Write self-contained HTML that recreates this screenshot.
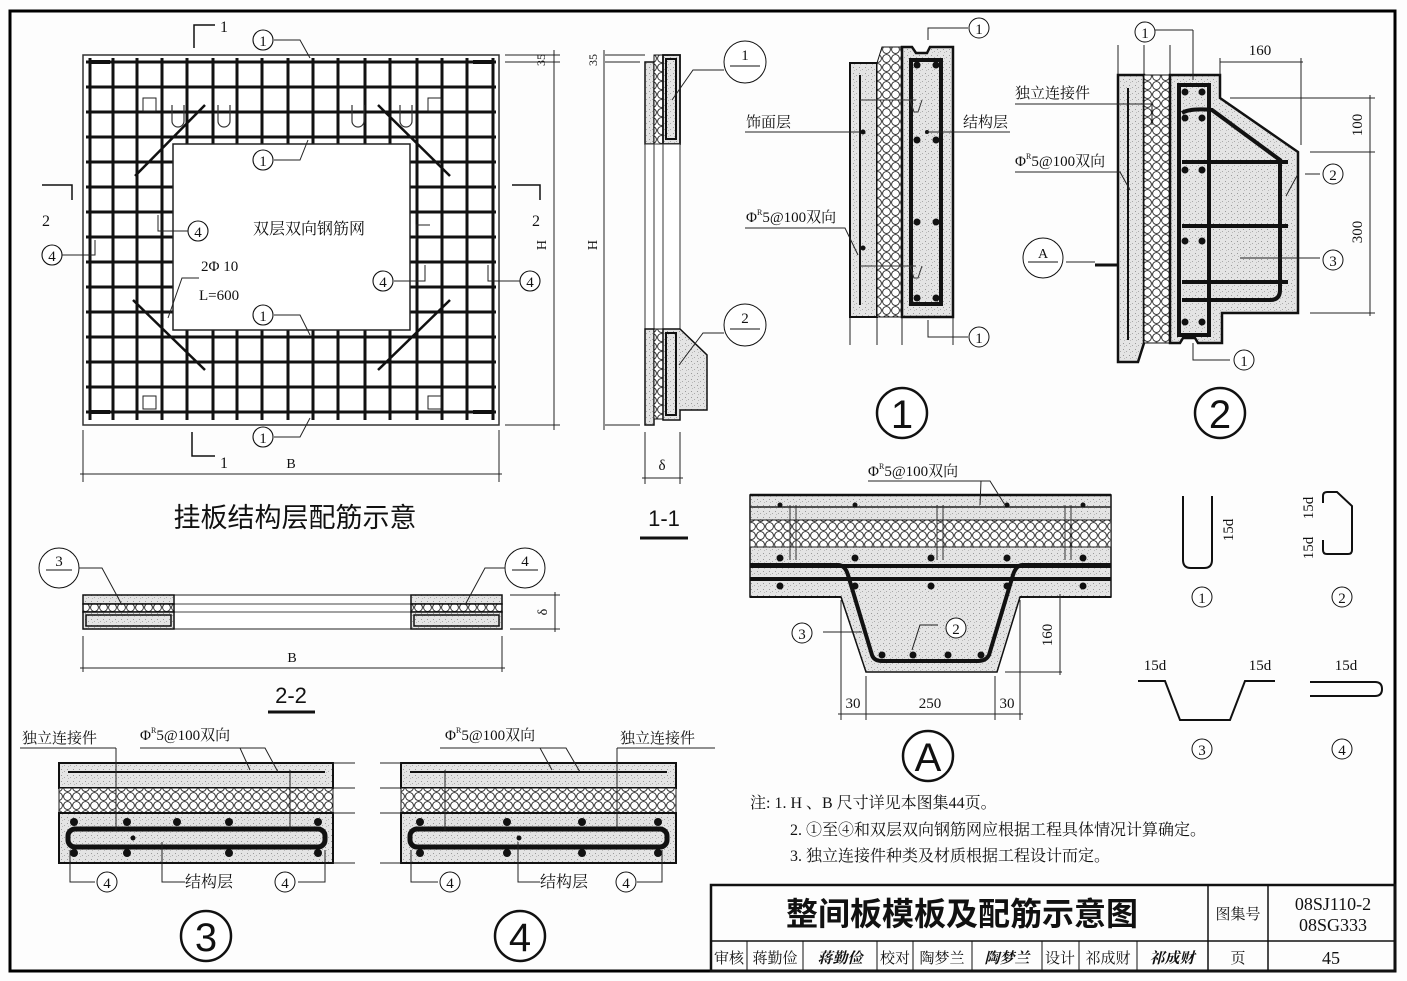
<!DOCTYPE html>
<html><head><meta charset="utf-8"><style>
html,body{margin:0;padding:0;background:#fdfdfd;}
svg{display:block}
text{font-family:"Liberation Serif","Noto Serif CJK SC","Noto Sans CJK SC",serif;fill:#111}
.s{font-family:"Liberation Sans","Noto Sans CJK SC",sans-serif}
</style></head><body>
<svg width="1407" height="981" viewBox="0 0 1407 981" xmlns="http://www.w3.org/2000/svg">
<defs>
<pattern id="hex" width="9" height="9" patternUnits="userSpaceOnUse">
<rect width="9" height="9" fill="#fff"/><circle cx="4.5" cy="4.5" r="3.9" fill="none" stroke="#222" stroke-width="0.9"/>
</pattern>
<pattern id="conc" width="6" height="6" patternUnits="userSpaceOnUse">
<rect width="6" height="6" fill="#e4e4e4"/><rect x="1" y="1" width="1" height="1" fill="#999"/><rect x="4" y="3" width="1" height="1" fill="#aaa"/><rect x="2" y="4" width="1" height="1" fill="#bbb"/>
</pattern>
</defs>
<rect x="0" y="0" width="1407" height="981" fill="#fdfdfd"/>
<rect x="10" y="11" width="1385" height="960" fill="none" stroke="#000" stroke-width="3"/>

<!-- ===== Main plan ===== -->
<rect x="83" y="55" width="416" height="370" fill="#fff" stroke="#333" stroke-width="1.5"/>
<g stroke="#111" stroke-width="3">
<line x1="86" y1="62" x2="496" y2="62"/><line x1="86" y1="87" x2="496" y2="87"/><line x1="86" y1="112" x2="496" y2="112"/><line x1="86" y1="137" x2="496" y2="137"/><line x1="86" y1="162" x2="496" y2="162"/><line x1="86" y1="187" x2="496" y2="187"/><line x1="86" y1="212" x2="496" y2="212"/><line x1="86" y1="237" x2="496" y2="237"/><line x1="86" y1="262" x2="496" y2="262"/><line x1="86" y1="287" x2="496" y2="287"/><line x1="86" y1="312" x2="496" y2="312"/><line x1="86" y1="337" x2="496" y2="337"/><line x1="86" y1="362" x2="496" y2="362"/><line x1="86" y1="387" x2="496" y2="387"/><line x1="86" y1="412" x2="496" y2="412"/>
<line x1="90" y1="58" x2="90" y2="420"/><line x1="113" y1="58" x2="113" y2="420"/><line x1="137" y1="58" x2="137" y2="420"/><line x1="162" y1="58" x2="162" y2="420"/><line x1="187" y1="58" x2="187" y2="420"/><line x1="213" y1="58" x2="213" y2="420"/><line x1="237" y1="58" x2="237" y2="420"/><line x1="262" y1="58" x2="262" y2="420"/><line x1="288" y1="58" x2="288" y2="420"/><line x1="313" y1="58" x2="313" y2="420"/><line x1="338" y1="58" x2="338" y2="420"/><line x1="365" y1="58" x2="365" y2="420"/><line x1="390" y1="58" x2="390" y2="420"/><line x1="417" y1="58" x2="417" y2="420"/><line x1="442" y1="58" x2="442" y2="420"/><line x1="467" y1="58" x2="467" y2="420"/><line x1="493" y1="58" x2="493" y2="420"/>
</g>
<g stroke="#111" stroke-width="4"><line x1="90" y1="62" x2="110" y2="62"/><line x1="90" y1="412" x2="110" y2="412"/><line x1="473" y1="62" x2="493" y2="62"/><line x1="473" y1="412" x2="493" y2="412"/></g>
<rect x="173" y="144" width="237" height="186" fill="#fff" stroke="#222" stroke-width="1.5"/>
<g stroke="#111" stroke-width="2.5">
<line x1="135" y1="176" x2="205" y2="105"/><line x1="378" y1="105" x2="450" y2="176"/><line x1="133" y1="300" x2="205" y2="370"/><line x1="378" y1="370" x2="450" y2="300"/>
</g>
<g fill="#fff" stroke="#222"><rect x="143" y="98" width="13" height="13"/><rect x="428" y="98" width="13" height="13"/><rect x="143" y="396" width="13" height="13"/><rect x="428" y="396" width="13" height="13"/></g>
<g fill="none" stroke="#333" stroke-width="1.2"><path d="M172 105 v16 a6 6 0 0 0 12 0 v-16"/><path d="M218 105 v16 a6 6 0 0 0 12 0 v-16"/><path d="M352 105 v16 a6 6 0 0 0 12 0 v-16"/><path d="M400 105 v16 a6 6 0 0 0 12 0 v-16"/></g>
<text x="253" y="234" font-size="16">双层双向钢筋网</text>
<rect x="200" y="252" width="56" height="52" fill="#fff"/>
<text x="201" y="271" font-size="15">2Φ 10</text><text x="199" y="300" font-size="15">L=600</text>
<g fill="#fff" stroke="#111" stroke-width="1.1">
<circle cx="263" cy="40" r="10"/><circle cx="263" cy="160" r="10"/><circle cx="263" cy="315" r="10"/><circle cx="263" cy="437" r="10"/><circle cx="198" cy="231" r="10"/><circle cx="383" cy="281" r="10"/><circle cx="52" cy="255" r="10"/><circle cx="530" cy="281" r="10"/>
</g>
<g font-size="15" text-anchor="middle"><text x="263" y="46">1</text><text x="263" y="166">1</text><text x="263" y="321">1</text><text x="263" y="443">1</text><text x="198" y="237">4</text><text x="383" y="287">4</text><text x="52" y="261">4</text><text x="530" y="287">4</text></g>
<g fill="none" stroke="#222" stroke-width="1"><path d="M274 40 H300 L310 58"/><path d="M274 160 H300 L308 140"/><path d="M274 315 H300 L310 335"/><path d="M274 437 H300 L310 418"/><path d="M188 231 H158 V215"/><path d="M394 281 H425 V265"/><path d="M62 255 H95 V240"/><path d="M520 281 H488 V265"/><path d="M199 278 L182 278 L168 318"/><path d="M430 225 H416 V240"/></g>
<g fill="none" stroke="#111" stroke-width="1.5"><path d="M194 48 V25 H215"/><path d="M192 432 V456 H215"/><path d="M42 185 H72 V200"/><path d="M512 185 H540 V200"/></g>
<text x="220" y="32" font-size="16">1</text><text x="220" y="468" font-size="16">1</text><text x="42" y="226" font-size="16">2</text><text x="532" y="226" font-size="16">2</text>
<g stroke="#222" stroke-width="1"><line x1="83" y1="430" x2="83" y2="482"/><line x1="499" y1="430" x2="499" y2="482"/><line x1="80" y1="474" x2="502" y2="474"/>
<line x1="505" y1="55" x2="560" y2="55"/><line x1="505" y1="62" x2="560" y2="62"/><line x1="505" y1="425" x2="560" y2="425"/><line x1="554" y1="50" x2="554" y2="430"/></g>
<text x="291" y="468" font-size="14" text-anchor="middle">B</text>
<text x="546" y="245" font-size="14" transform="rotate(-90 546 245)" text-anchor="middle">H</text>
<text x="545" y="60" font-size="12" transform="rotate(-90 545 60)" text-anchor="middle">35</text>
<text x="295" y="527" font-size="27" class="s" text-anchor="middle">挂板结构层配筋示意</text>

<!-- ===== 1-1 section ===== -->
<g stroke="#222" stroke-width="1"><line x1="605" y1="55" x2="645" y2="55"/><line x1="605" y1="62" x2="640" y2="62"/><line x1="605" y1="425" x2="640" y2="425"/><line x1="604" y1="50" x2="604" y2="430"/></g>
<text x="597" y="245" font-size="14" transform="rotate(-90 597 245)" text-anchor="middle">H</text>
<text x="597" y="60" font-size="12" transform="rotate(-90 597 60)" text-anchor="middle">35</text>
<rect x="645" y="62" width="9" height="82" fill="url(#conc)" stroke="#111" stroke-width="1.5"/>
<rect x="654" y="55" width="9" height="89" fill="url(#hex)" stroke="#111" stroke-width="1"/>
<rect x="663" y="55" width="17" height="89" fill="url(#conc)" stroke="#111" stroke-width="1.8"/>
<rect x="666" y="59" width="10" height="80" fill="none" stroke="#111" stroke-width="2"/>
<rect x="645" y="144" width="35" height="185" fill="#fff" stroke="#333" stroke-width="1"/>
<line x1="654" y1="144" x2="654" y2="329" stroke="#333"/><line x1="663" y1="144" x2="663" y2="329" stroke="#333"/>
<rect x="645" y="329" width="9" height="96" fill="url(#conc)" stroke="#111" stroke-width="1.5"/>
<rect x="654" y="329" width="9" height="90" fill="url(#hex)" stroke="#111" stroke-width="1"/>
<path d="M663 329 H680 L707 355 V410 H680 V420 H663 Z" fill="url(#conc)" stroke="#111" stroke-width="1.5"/>
<rect x="666" y="333" width="10" height="82" fill="none" stroke="#111" stroke-width="2"/>
<g fill="#fff" stroke="#111"><circle cx="745" cy="62" r="21"/><circle cx="745" cy="325" r="21"/></g>
<g stroke="#111"><line x1="730" y1="66" x2="760" y2="66"/><line x1="730" y1="329" x2="760" y2="329"/></g>
<text x="745" y="60" font-size="15" text-anchor="middle">1</text><text x="745" y="323" font-size="15" text-anchor="middle">2</text>
<path d="M724 70 H693 L672 100" fill="none" stroke="#222"/><path d="M724 333 H703 L679 365" fill="none" stroke="#222"/>
<g stroke="#222"><line x1="645" y1="432" x2="645" y2="484"/><line x1="680" y1="432" x2="680" y2="484"/><line x1="642" y1="478" x2="683" y2="478"/></g>
<text x="662" y="470" font-size="15" text-anchor="middle">δ</text>
<text x="664" y="526" font-size="22" class="s" text-anchor="middle">1-1</text>
<line x1="640" y1="538" x2="688" y2="538" stroke="#111" stroke-width="3"/>

<!-- ===== 2-2 ===== -->
<rect x="83" y="595" width="419" height="34" fill="#fff" stroke="#222"/>
<line x1="174" y1="604" x2="411" y2="604" stroke="#444"/><line x1="174" y1="612" x2="411" y2="612" stroke="#444"/>
<g stroke="#111" stroke-width="1.5">
<rect x="83" y="595" width="91" height="9" fill="url(#conc)"/><rect x="83" y="604" width="91" height="8" fill="url(#hex)"/><rect x="83" y="612" width="91" height="17" fill="url(#conc)"/>
<rect x="411" y="595" width="91" height="9" fill="url(#conc)"/><rect x="411" y="604" width="91" height="8" fill="url(#hex)"/><rect x="411" y="612" width="91" height="17" fill="url(#conc)"/>
</g>
<g fill="none" stroke="#111" stroke-width="1.5"><rect x="86" y="615" width="85" height="11"/><rect x="414" y="615" width="85" height="11"/></g>
<g fill="#fff" stroke="#111"><circle cx="59" cy="568" r="20"/><circle cx="525" cy="568" r="20"/></g>
<g stroke="#111"><line x1="46" y1="570" x2="72" y2="570"/><line x1="512" y1="570" x2="538" y2="570"/></g>
<text x="59" y="566" font-size="15" text-anchor="middle">3</text><text x="525" y="566" font-size="15" text-anchor="middle">4</text>
<path d="M79 568 H102 L122 605" fill="none" stroke="#222"/><path d="M505 568 H485 L465 605" fill="none" stroke="#222"/>
<g stroke="#222"><line x1="83" y1="636" x2="83" y2="672"/><line x1="502" y1="636" x2="502" y2="672"/><line x1="80" y1="668" x2="505" y2="668"/><line x1="510" y1="595" x2="560" y2="595"/><line x1="510" y1="629" x2="560" y2="629"/><line x1="555" y1="592" x2="555" y2="632"/></g>
<text x="292" y="662" font-size="14" text-anchor="middle">B</text>
<text x="547" y="612" font-size="14" transform="rotate(-90 547 612)" text-anchor="middle">δ</text>
<text x="291" y="703" font-size="22" class="s" text-anchor="middle">2-2</text>
<line x1="268" y1="712" x2="315" y2="712" stroke="#111" stroke-width="3"/>

<!-- ===== Detail 3 ===== -->
<g stroke="#111" stroke-width="2">
<rect x="59" y="763" width="274" height="25" fill="url(#conc)"/>
<rect x="59" y="788" width="274" height="25" fill="url(#hex)" stroke-width="1"/>
<rect x="59" y="813" width="274" height="50" fill="url(#conc)"/>
</g>
<line x1="68" y1="772" x2="325" y2="772" stroke="#111" stroke-width="2"/>
<rect x="68" y="829" width="257" height="18" rx="7" fill="none" stroke="#111" stroke-width="5"/>
<g fill="#111"><circle cx="74" cy="822" r="4"/><circle cx="127" cy="822" r="4"/><circle cx="177" cy="822" r="4"/><circle cx="229" cy="822" r="4"/><circle cx="318" cy="822" r="4"/><circle cx="74" cy="853" r="4"/><circle cx="127" cy="853" r="4"/><circle cx="229" cy="853" r="4"/><circle cx="318" cy="853" r="4"/><circle cx="133" cy="838" r="2.5"/></g>
<g stroke="#222"><line x1="116" y1="748" x2="116" y2="830"/><line x1="290" y1="770" x2="290" y2="830"/><line x1="333" y1="763" x2="355" y2="763"/><line x1="333" y1="788" x2="355" y2="788"/><line x1="333" y1="813" x2="355" y2="813"/><line x1="333" y1="863" x2="355" y2="863"/></g>
<path d="M20 748 H116" stroke="#222" fill="none"/><path d="M140 748 H240 L250 770 M240 748 H265 L278 772" stroke="#222" fill="none"/>
<text x="22" y="743" font-size="15">独立连接件</text><text x="140" y="740" font-size="15">Φ<tspan font-size="8" dy="-7">R</tspan><tspan dy="7">5@100双向</tspan></text>
<g fill="none" stroke="#222"><path d="M70 850 V882 H95"/><path d="M162 842 V882 H185"/><path d="M325 850 V882 H298"/></g>
<g fill="#fff" stroke="#111"><circle cx="107" cy="882" r="10"/><circle cx="285" cy="882" r="10"/></g>
<text x="107" y="888" font-size="15" text-anchor="middle">4</text><text x="285" y="888" font-size="15" text-anchor="middle">4</text>
<text x="185" y="887" font-size="16">结构层</text>
<circle cx="206" cy="936" r="25" fill="#fff" stroke="#111" stroke-width="2.5"/>
<text x="206" y="951" font-size="40" class="s" text-anchor="middle">3</text>

<!-- ===== Detail 4 ===== -->
<g stroke="#111" stroke-width="2">
<rect x="401" y="763" width="275" height="25" fill="url(#conc)"/>
<rect x="401" y="788" width="275" height="25" fill="url(#hex)" stroke-width="1"/>
<rect x="401" y="813" width="275" height="50" fill="url(#conc)"/>
</g>
<line x1="410" y1="772" x2="667" y2="772" stroke="#111" stroke-width="2"/>
<rect x="410" y="829" width="257" height="18" rx="7" fill="none" stroke="#111" stroke-width="5"/>
<g fill="#111"><circle cx="420" cy="822" r="4"/><circle cx="507" cy="822" r="4"/><circle cx="582" cy="822" r="4"/><circle cx="658" cy="822" r="4"/><circle cx="420" cy="853" r="4"/><circle cx="507" cy="853" r="4"/><circle cx="582" cy="853" r="4"/><circle cx="658" cy="853" r="4"/><circle cx="519" cy="838" r="2.5"/></g>
<g stroke="#222"><line x1="617" y1="748" x2="617" y2="830"/><line x1="445" y1="770" x2="445" y2="830"/><line x1="380" y1="763" x2="401" y2="763"/><line x1="380" y1="788" x2="401" y2="788"/><line x1="380" y1="813" x2="401" y2="813"/><line x1="380" y1="863" x2="401" y2="863"/></g>
<path d="M440 748 H540 L552 770 M540 748 H566 L580 772" stroke="#222" fill="none"/><path d="M617 748 H715" stroke="#222"/>
<text x="445" y="740" font-size="15">Φ<tspan font-size="8" dy="-7">R</tspan><tspan dy="7">5@100双向</tspan></text><text x="620" y="743" font-size="15">独立连接件</text>
<g fill="none" stroke="#222"><path d="M411 850 V882 H438"/><path d="M518 842 V882 H540"/><path d="M662 850 V882 H637"/></g>
<g fill="#fff" stroke="#111"><circle cx="450" cy="882" r="10"/><circle cx="626" cy="882" r="10"/></g>
<text x="450" y="888" font-size="15" text-anchor="middle">4</text><text x="626" y="888" font-size="15" text-anchor="middle">4</text>
<text x="540" y="887" font-size="16">结构层</text>
<circle cx="520" cy="936" r="25" fill="#fff" stroke="#111" stroke-width="2.5"/>
<text x="520" y="951" font-size="40" class="s" text-anchor="middle">4</text>

<!-- ===== Detail 1 ===== -->
<g stroke="#222"><line x1="850" y1="310" x2="850" y2="345"/><line x1="877" y1="310" x2="877" y2="345"/><line x1="902" y1="310" x2="902" y2="345"/><line x1="953" y1="310" x2="953" y2="345"/></g>
<rect x="850" y="63" width="27" height="254" fill="url(#conc)" stroke="#111" stroke-width="2"/>
<path d="M877 63 L882 47 H902 V317 H877 Z" fill="url(#hex)" stroke="#111" stroke-width="1"/>
<path d="M902 47 H912 L916 53 H927 L930 47 H953 V317 H902 Z" fill="url(#conc)" stroke="#111" stroke-width="2.5"/>
<rect x="911" y="60" width="30" height="244" fill="none" stroke="#111" stroke-width="4"/>
<line x1="860" y1="75" x2="860" y2="305" stroke="#111" stroke-width="2"/>
<g fill="#111"><circle cx="917" cy="65" r="3.5"/><circle cx="936" cy="65" r="3.5"/><circle cx="917" cy="140" r="3.5"/><circle cx="936" cy="140" r="3.5"/><circle cx="917" cy="222" r="3.5"/><circle cx="936" cy="222" r="3.5"/><circle cx="917" cy="298" r="3.5"/><circle cx="936" cy="298" r="3.5"/><circle cx="863" cy="132" r="2.5"/><circle cx="863" cy="248" r="2.5"/><circle cx="927" cy="132" r="2"/></g>
<g stroke="#333" fill="none"><path d="M860 100 H916 M860 266 H916"/><path d="M910 100 l4 12 h4 l4 -12 M910 266 l4 12 h4 l4 -12"/></g>
<g stroke="#222" fill="none"><path d="M745 132 H860"/><path d="M927 132 H1010"/><path d="M745 228 H845 L858 255"/><path d="M928 40 V28 H968"/><path d="M928 320 V337 H968"/></g>
<text x="746" y="127" font-size="15">饰面层</text><text x="963" y="127" font-size="15">结构层</text>
<text x="746" y="222" font-size="15">Φ<tspan font-size="8" dy="-7">R</tspan><tspan dy="7">5@100双向</tspan></text>
<g fill="#fff" stroke="#111"><circle cx="979" cy="28" r="10"/><circle cx="979" cy="337" r="10"/></g>
<text x="979" y="34" font-size="15" text-anchor="middle">1</text><text x="979" y="343" font-size="15" text-anchor="middle">1</text>
<circle cx="902" cy="413" r="25" fill="#fff" stroke="#111" stroke-width="2.5"/>
<text x="902" y="428" font-size="40" class="s" text-anchor="middle">1</text>

<!-- ===== Detail 2 ===== -->
<g stroke="#222"><line x1="1118" y1="45" x2="1118" y2="75"/><line x1="1144" y1="45" x2="1144" y2="75"/><line x1="1170" y1="45" x2="1170" y2="75"/></g>
<path d="M1118 75 H1144 V343 L1138 362 H1118 Z" fill="url(#conc)" stroke="#111" stroke-width="2.5"/>
<rect x="1144" y="75" width="26" height="268" fill="url(#hex)" stroke="#111" stroke-width="1"/>
<path d="M1170 75 H1220 V98 L1298 152 V313 H1222 V343 H1198 L1195 338 H1183 L1180 343 H1170 Z" fill="url(#conc)" stroke="#111" stroke-width="2.5"/>
<g stroke="#111" stroke-width="4" fill="none">
<rect x="1179" y="85" width="30" height="250"/>
<path d="M1182 113 Q1190 108 1212 110 L1280 160 V290 Q1280 300 1270 300 H1182"/>
<line x1="1182" y1="162" x2="1288" y2="162"/><line x1="1182" y1="226" x2="1288" y2="226"/><line x1="1182" y1="282" x2="1288" y2="282"/>
</g>
<line x1="1128" y1="88" x2="1128" y2="340" stroke="#111" stroke-width="2"/>
<g fill="#111"><circle cx="1185" cy="92" r="3.5"/><circle cx="1202" cy="92" r="3.5"/><circle cx="1185" cy="118" r="3.5"/><circle cx="1202" cy="118" r="3.5"/><circle cx="1185" cy="170" r="3.5"/><circle cx="1202" cy="170" r="3.5"/><circle cx="1185" cy="241" r="3.5"/><circle cx="1202" cy="241" r="3.5"/><circle cx="1185" cy="322" r="3.5"/><circle cx="1202" cy="322" r="3.5"/></g>
<line x1="1095" y1="265" x2="1118" y2="265" stroke="#111" stroke-width="3"/>
<g stroke="#222" fill="none"><path d="M1015 104 H1152 V125"/><path d="M1015 172 H1120 L1130 190"/><path d="M1066 262 H1095"/><path d="M1193 30 V80 M1193 30 H1155"/><path d="M1193 343 V360 H1230"/><path d="M1305 174 H1320 M1298 174 L1286 196"/><path d="M1240 258 H1320"/></g>
<text x="1015" y="98" font-size="15">独立连接件</text>
<text x="1015" y="166" font-size="15">Φ<tspan font-size="8" dy="-7">R</tspan><tspan dy="7">5@100双向</tspan></text>
<g fill="#fff" stroke="#111"><circle cx="1145" cy="32" r="10"/><circle cx="1244" cy="360" r="10"/><circle cx="1333" cy="174" r="10"/><circle cx="1333" cy="260" r="10"/><circle cx="1043" cy="258" r="20"/></g>
<text x="1145" y="38" font-size="15" text-anchor="middle">1</text><text x="1244" y="366" font-size="15" text-anchor="middle">1</text><text x="1333" y="180" font-size="15" text-anchor="middle">2</text><text x="1333" y="266" font-size="15" text-anchor="middle">3</text>
<line x1="1028" y1="262" x2="1058" y2="262" stroke="#111"/><text x="1043" y="258" font-size="14" text-anchor="middle">A</text>
<g stroke="#222"><line x1="1220" y1="62" x2="1303" y2="62"/><line x1="1220" y1="58" x2="1220" y2="75"/><line x1="1301" y1="58" x2="1301" y2="145"/><line x1="1230" y1="98" x2="1375" y2="98"/><line x1="1310" y1="152" x2="1375" y2="152"/><line x1="1310" y1="313" x2="1375" y2="313"/><line x1="1370" y1="95" x2="1370" y2="316"/></g>
<text x="1260" y="55" font-size="15" text-anchor="middle">160</text>
<text x="1362" y="125" font-size="15" transform="rotate(-90 1362 125)" text-anchor="middle">100</text>
<text x="1362" y="232" font-size="15" transform="rotate(-90 1362 232)" text-anchor="middle">300</text>
<circle cx="1220" cy="413" r="25" fill="#fff" stroke="#111" stroke-width="2.5"/>
<text x="1220" y="428" font-size="40" class="s" text-anchor="middle">2</text>

<!-- ===== Detail A ===== -->
<path d="M750 495 H1111 V597 H1020 L997 672 H866 L841 597 H750 Z" fill="url(#conc)" stroke="#111" stroke-width="1.5"/>
<rect x="750" y="520" width="361" height="27" fill="url(#hex)" stroke="#222" stroke-width="1"/>
<line x1="750" y1="495" x2="1111" y2="495" stroke="#111" stroke-width="2.5"/>
<line x1="750" y1="507" x2="1111" y2="507" stroke="#222" stroke-width="1.5"/>
<line x1="750" y1="566" x2="1111" y2="566" stroke="#111" stroke-width="4"/>
<line x1="750" y1="579" x2="1111" y2="579" stroke="#111" stroke-width="4"/>
<path d="M750 565 H838 Q845 565 848 575 L872 655 Q874 661 882 661 H978 Q986 661 989 655 L1013 575 Q1016 565 1023 565 H1111" fill="none" stroke="#111" stroke-width="4"/>
<line x1="750" y1="597" x2="841" y2="597" stroke="#111" stroke-width="2"/><line x1="1020" y1="597" x2="1111" y2="597" stroke="#111" stroke-width="2"/>
<g fill="#111"><circle cx="780" cy="558" r="3.5"/><circle cx="855" cy="558" r="3.5"/><circle cx="931" cy="558" r="3.5"/><circle cx="1007" cy="558" r="3.5"/><circle cx="1083" cy="558" r="3.5"/><circle cx="780" cy="586" r="3.5"/><circle cx="855" cy="586" r="3.5"/><circle cx="931" cy="586" r="3.5"/><circle cx="1007" cy="586" r="3.5"/><circle cx="1083" cy="586" r="3.5"/><circle cx="882" cy="655" r="3.5"/><circle cx="913" cy="655" r="3.5"/><circle cx="948" cy="655" r="3.5"/><circle cx="981" cy="655" r="3.5"/><circle cx="780" cy="505" r="2.5"/><circle cx="855" cy="505" r="2.5"/><circle cx="1007" cy="505" r="2.5"/><circle cx="1083" cy="505" r="2.5"/></g>
<g stroke="#333" fill="none"><path d="M790 505 V560 M796 505 V560 M937 505 V560 M943 505 V560 M1065 505 V560 M1071 505 V560"/></g>
<g stroke="#222" fill="none"><path d="M868 481 H990 L1005 505 M981 481 L980 505"/><path d="M823 632 H862"/><path d="M938 625 H920 L912 650"/></g>
<text x="868" y="476" font-size="15">Φ<tspan font-size="8" dy="-7">R</tspan><tspan dy="7">5@100双向</tspan></text>
<g fill="#fff" stroke="#111"><circle cx="802" cy="633" r="10"/><circle cx="956" cy="628" r="10"/></g>
<text x="802" y="639" font-size="15" text-anchor="middle">3</text><text x="956" y="634" font-size="15" text-anchor="middle">2</text>
<g stroke="#222"><line x1="841" y1="600" x2="841" y2="720"/><line x1="866" y1="676" x2="866" y2="720"/><line x1="995" y1="676" x2="995" y2="720"/><line x1="1020" y1="600" x2="1020" y2="720"/><line x1="838" y1="714" x2="1023" y2="714"/><line x1="1030" y1="597" x2="1062" y2="597"/><line x1="1005" y1="672" x2="1062" y2="672"/><line x1="1060" y1="594" x2="1060" y2="675"/></g>
<text x="853" y="708" font-size="15" text-anchor="middle">30</text><text x="930" y="708" font-size="15" text-anchor="middle">250</text><text x="1007" y="708" font-size="15" text-anchor="middle">30</text>
<text x="1052" y="635" font-size="15" transform="rotate(-90 1052 635)" text-anchor="middle">160</text>
<circle cx="928" cy="756" r="25" fill="#fff" stroke="#111" stroke-width="2.5"/>
<text x="928" y="771" font-size="40" class="s" text-anchor="middle">A</text>

<!-- bar shapes -->
<path d="M1183 496 V560 Q1183 568 1191 568 H1204 Q1212 568 1212 560 V496" fill="none" stroke="#111" stroke-width="2"/>
<text x="1233" y="530" font-size="15" transform="rotate(-90 1233 530)" text-anchor="middle">15d</text>
<path d="M1323 503 V496 Q1323 492 1327 492 H1337 L1352 506 V550 Q1352 554 1348 554 H1327 Q1323 554 1323 550 V540" fill="none" stroke="#111" stroke-width="2"/>
<text x="1313" y="508" font-size="15" transform="rotate(-90 1313 508)" text-anchor="middle">15d</text>
<text x="1313" y="548" font-size="15" transform="rotate(-90 1313 548)" text-anchor="middle">15d</text>
<g fill="#fff" stroke="#111"><circle cx="1202" cy="597" r="10"/><circle cx="1342" cy="597" r="10"/><circle cx="1202" cy="749" r="10"/><circle cx="1342" cy="749" r="10"/></g>
<text x="1202" y="603" font-size="15" text-anchor="middle">1</text><text x="1342" y="603" font-size="15" text-anchor="middle">2</text><text x="1202" y="755" font-size="15" text-anchor="middle">3</text><text x="1342" y="755" font-size="15" text-anchor="middle">4</text>
<path d="M1138 681 H1165 L1180 720 H1230 L1245 681 H1275" fill="none" stroke="#111" stroke-width="2"/>
<text x="1155" y="670" font-size="15" text-anchor="middle">15d</text><text x="1260" y="670" font-size="15" text-anchor="middle">15d</text>
<path d="M1310 682 H1375 Q1382 682 1382 689 Q1382 696 1375 696 H1310" fill="none" stroke="#111" stroke-width="2"/>
<text x="1346" y="670" font-size="15" text-anchor="middle">15d</text>

<!-- notes -->
<g font-size="16"><text x="750" y="808">注: 1.  H 、B 尺寸详见本图集44页。</text><text x="790" y="835">2.  ①至④和双层双向钢筋网应根据工程具体情况计算确定。</text><text x="790" y="861">3.  独立连接件种类及材质根据工程设计而定。</text></g>

<!-- title block -->
<g stroke="#111" fill="none">
<rect x="711" y="885" width="684" height="86" stroke-width="2.5"/>
<line x1="711" y1="941" x2="1395" y2="941" stroke-width="1.5"/>
<line x1="1208" y1="885" x2="1208" y2="971" stroke-width="1.5"/><line x1="1268" y1="885" x2="1268" y2="971" stroke-width="1.5"/>
<line x1="747" y1="941" x2="747" y2="971"/><line x1="803" y1="941" x2="803" y2="971"/><line x1="877" y1="941" x2="877" y2="971"/><line x1="913" y1="941" x2="913" y2="971"/><line x1="972" y1="941" x2="972" y2="971"/><line x1="1042" y1="941" x2="1042" y2="971"/><line x1="1079" y1="941" x2="1079" y2="971"/><line x1="1137" y1="941" x2="1137" y2="971"/>
</g>
<text x="962" y="925" font-size="32" class="s" font-weight="bold" text-anchor="middle">整间板模板及配筋示意图</text>
<text x="1238" y="919" font-size="15" text-anchor="middle">图集号</text>
<text x="1333" y="910" font-size="18" text-anchor="middle">08SJ110-2</text>
<text x="1333" y="931" font-size="18" text-anchor="middle">08SG333</text>
<g font-size="15" text-anchor="middle"><text x="729" y="963">审核</text><text x="775" y="963">蒋勤俭</text><text x="840" y="963" font-style="italic" font-weight="bold">蒋勤俭</text><text x="895" y="963">校对</text><text x="942" y="963">陶梦兰</text><text x="1007" y="963" font-style="italic" font-weight="bold">陶梦兰</text><text x="1060" y="963">设计</text><text x="1108" y="963">祁成财</text><text x="1172" y="963" font-style="italic" font-weight="bold">祁成财</text><text x="1238" y="963">页</text><text x="1331" y="964" font-size="18">45</text></g>
</svg>
</body></html>
